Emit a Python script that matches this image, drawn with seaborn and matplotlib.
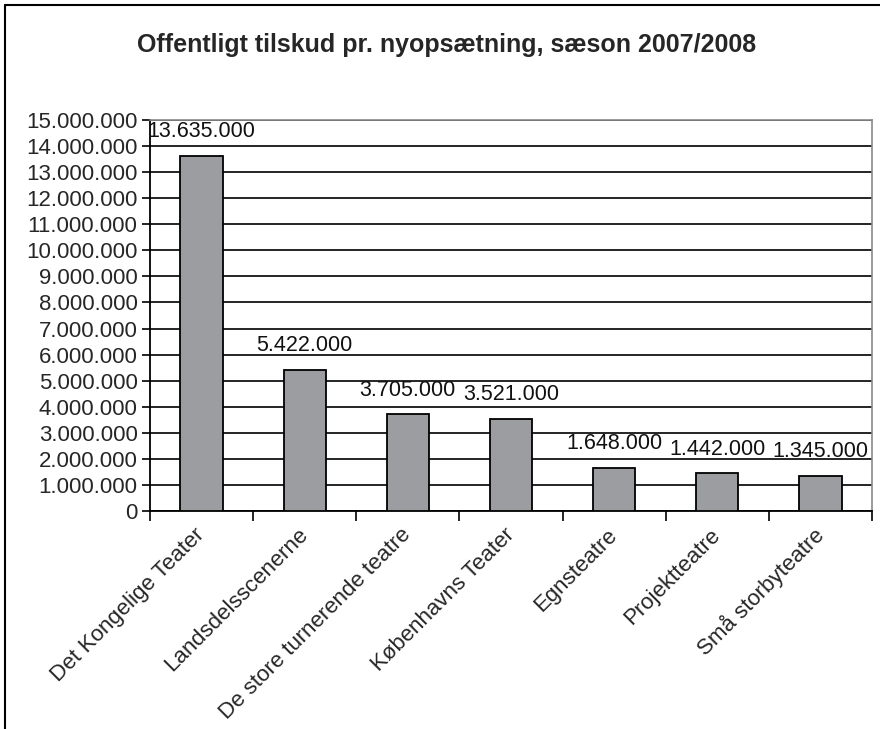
import matplotlib
matplotlib.use("Agg")
import matplotlib.pyplot as plt
import matplotlib.ticker as mticker
from matplotlib.lines import Line2D
import pandas as pd
import seaborn as sns

# chart data
teatre = ["Det Kongelige Teater", "Landsdelsscenerne", "De store turnerende teatre",
          "Københavns Teater", "Egnsteatre", "Projektteatre", "Små storbyteatre"]
tilskud = [13635000, 5422000, 3705000, 3521000, 1648000, 1442000, 1345000]
y_ticks = list(range(0, 15000001, 1000000))

title = "Offentligt tilskud pr. nyopsætning, sæson 2007/2008"


def dk_format(v, pos=None):
    # danish thousand separator
    return f"{int(v):,}".replace(",", ".")


sns.set_theme(style="white")
plt.rcParams['font.family'] = ['Liberation Sans', 'DejaVu Sans']

df = pd.DataFrame({"teater": teatre, "tilskud": tilskud})

fig = plt.figure(figsize=(8.8, 7.29), dpi=100)
ax = fig.add_axes([150 / 880, 1 - 511 / 729, 722 / 880, 391 / 729])

sns.barplot(data=df, x="teater", y="tilskud", ax=ax, color="#9c9da1",
            width=0.41, edgecolor="black", linewidth=1.3, saturation=1, zorder=3)

ax.set_xlim(-0.5, len(teatre) - 0.5)
ax.set_ylim(0, 15000000)
ax.set_yticks(y_ticks)
ax.yaxis.set_major_formatter(mticker.FuncFormatter(dk_format))
ax.grid(axis="y", color="black", linewidth=1.2, zorder=0)
ax.set_axisbelow(True)

ax.set_xlabel("")
ax.set_ylabel("")

# value labels above bars
for i, v in enumerate(tilskud):
    ax.annotate(dk_format(v), (i, v), xytext=(0, 10), textcoords="offset points",
                ha="center", va="bottom", fontsize=15.5, color="#111111", zorder=5)

# category boundaries as ticks, labels in the middle
ax.set_xticks(range(len(teatre)))
ax.set_xticklabels(teatre, rotation=45, ha="right", va="center",
                   rotation_mode="anchor", fontsize=16)
ax.set_xticks([i - 0.5 for i in range(len(teatre) + 1)], minor=True)
ax.tick_params(axis="x", which="major", length=0, pad=15)
ax.tick_params(axis="x", which="minor", length=7, width=1.2, color="black",
               direction="out", bottom=True)
ax.tick_params(axis="y", length=6, width=1.2, color="black", direction="out",
               left=True, labelsize=16, pad=3)

for side in ["left", "bottom"]:
    ax.spines[side].set_color("black")
    ax.spines[side].set_linewidth(1.3)
for side in ["top", "right"]:
    ax.spines[side].set_color("#8a8a8a")
    ax.spines[side].set_linewidth(1.2)

fig.text(447 / 880, 1 - 45 / 729, title, ha="center", va="center",
         fontsize=18, fontweight="bold")

# outer border of the chart
fig.add_artist(Line2D([5 / 880, 5 / 880], [0, 1 - 5 / 729], color="black", linewidth=1.5))
fig.add_artist(Line2D([5 / 880, 1], [1 - 5 / 729, 1 - 5 / 729], color="black", linewidth=1.5))

fig.savefig("out.png", dpi=100, facecolor="white")
